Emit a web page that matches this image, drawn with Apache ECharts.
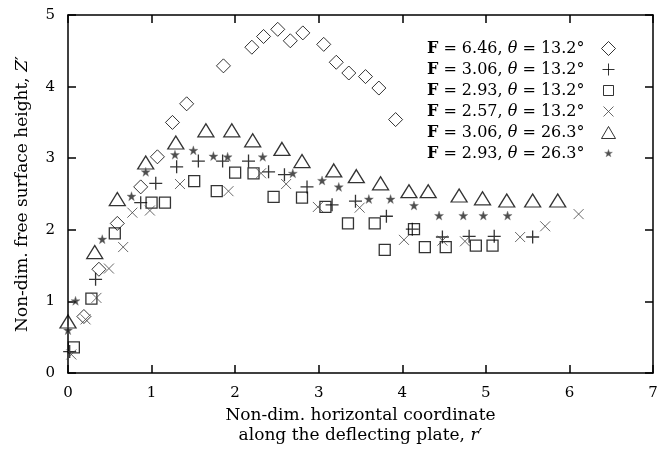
<!DOCTYPE html>
<html>
<head>
    <meta charset="UTF-8">
    <title>Free surface height</title>
    <script src="https://cdn.jsdelivr.net/npm/echarts@6/dist/echarts.min.js"></script>
</head>
<body style="margin:0">
<div id="chart" style="width:668px; height:451px;"></div>
<script>
    // F = 6.46, theta = 13.2
    var diamondPts = [[0.19,0.79],[0.37,1.45],[0.59,2.09],[0.87,2.6],[1.07,3.02],[1.25,3.5],[1.42,3.76],
        [1.86,4.29],[2.2,4.55],[2.34,4.7],[2.51,4.8],[2.66,4.64],[2.81,4.75],[3.06,4.59],[3.21,4.34],
        [3.36,4.19],[3.56,4.14],[3.72,3.98],[3.92,3.54]];
    // F = 3.06, theta = 13.2
    var plusPts = [[0.02,0.3],[0.33,1.31],[0.87,2.38],[1.05,2.65],[1.3,2.88],[1.56,2.96],[1.85,2.96],
        [2.16,2.96],[2.4,2.81],[2.59,2.77],[2.86,2.6],[3.16,2.35],[3.44,2.4],[3.81,2.19],[4.12,2.01],
        [4.48,1.9],[4.8,1.91],[5.1,1.91],[5.56,1.9]];
    // F = 2.93, theta = 13.2
    var squarePts = [[0.07,0.36],[0.28,1.04],[0.56,1.95],[1.0,2.38],[1.16,2.38],[1.51,2.68],[1.78,2.54],
        [2.0,2.8],[2.22,2.79],[2.46,2.46],[2.8,2.45],[3.08,2.32],[3.35,2.09],[3.67,2.09],[3.79,1.72],
        [4.14,2.01],[4.27,1.76],[4.52,1.76],[4.88,1.78],[5.08,1.78]];
    // F = 2.57, theta = 13.2
    var crossPts = [[0.04,0.26],[0.21,0.75],[0.34,1.05],[0.49,1.46],[0.66,1.76],[0.77,2.24],[0.98,2.27],
        [1.34,2.64],[1.92,2.54],[2.31,2.79],[2.61,2.64],[2.99,2.32],[3.49,2.31],[4.02,1.86],[4.48,1.85],
        [4.75,1.84],[5.41,1.9],[5.71,2.05],[6.11,2.22]];
    // F = 3.06, theta = 26.3
    var trianglePts = [[0.0,0.72],[0.32,1.69],[0.59,2.43],[0.93,2.94],[1.29,3.22],[1.65,3.39],[1.96,3.39],
        [2.21,3.25],[2.56,3.13],[2.8,2.96],[3.18,2.83],[3.45,2.75],[3.74,2.65],[4.08,2.54],[4.31,2.54],
        [4.68,2.48],[4.96,2.44],[5.25,2.41],[5.56,2.41],[5.86,2.41]];
    // F = 2.93, theta = 26.3
    var starPts = [[0.0,0.6],[0.09,1.01],[0.41,1.87],[0.76,2.47],[0.93,2.81],[1.28,3.05],[1.5,3.11],
        [1.74,3.03],[1.91,3.02],[2.33,3.02],[2.69,2.79],[3.04,2.69],[3.24,2.6],[3.6,2.43],[3.86,2.43],
        [4.14,2.34],[4.44,2.2],[4.73,2.2],[4.97,2.2],[5.26,2.2]];

    var legendNames = ['6.46, 13.2', '3.06, 13.2', '2.93, 13.2', '2.57, 13.2', '3.06, 26.3', '2.93, 26.3'];

    var serif = 'DejaVu Serif';
    var plusPath = 'path://M0,6H12M6,0V12';
    var crossPath = 'path://M0,0L10,10M0,10L10,0';
    var starShape = 'M10,0L12.35,6.76L19.51,6.91L13.8,11.24L15.88,18.09L10,14L4.12,18.09L6.2,11.24L0.49,6.91L7.65,6.76Z';
    var starPath = 'path://' + starShape;

    // legend icons, padded so they come out smaller inside the 14px box
    var legendIcons = [
        'path://M7,0.5L13.5,7L7,13.5L0.5,7Z',
        'path://M1,7H13M7,1V13M0,0M14,14',
        'path://M2,2H12V12H2ZM0,0M14,14',
        'path://M2,2L12,12M2,12L12,2M0,0M14,14',
        'path://M7,1L14,13H0ZM0,0M14,14',
        'path://' + starShape + 'M-7,-7M27,27'
    ];

    function hollow(w) {
        return {color: 'rgba(0,0,0,0)', borderColor: '#000', borderWidth: w};
    }

    function makeAxis(pos, max, showLabel) {
        return {
            type: 'value', position: pos, min: 0, max: max, interval: 1,
            axisLine: {show: true, onZero: false, lineStyle: {color: '#000', width: 1.5}},
            axisTick: {show: true, inside: true, length: 8, lineStyle: {color: '#000', width: 1.5}},
            axisLabel: {show: showLabel, color: '#000', fontFamily: serif, fontSize: 15, margin: 13},
            splitLine: {show: false}
        };
    }

    var chart = echarts.init(document.getElementById('chart'), null, {renderer: 'canvas'});

    var xMain = makeAxis('bottom', 7, true);
    xMain.name = 'Non-dim. horizontal coordinate\nalong the deflecting plate, {i|r}\u2032';
    xMain.nameLocation = 'middle';
    xMain.nameGap = 27;
    xMain.nameTextStyle = {color: '#000', fontFamily: serif, fontSize: 17, lineHeight: 20,
        rich: {i: {fontStyle: 'italic', fontFamily: serif, fontSize: 17, lineHeight: 20, color: '#000'}}};

    var yMain = makeAxis('left', 5, true);
    yMain.name = 'Non-dim. free surface height, {i|Z}\u2032';
    yMain.nameLocation = 'middle';
    yMain.nameGap = 37;
    yMain.nameTextStyle = {color: '#000', fontFamily: serif, fontSize: 17,
        rich: {i: {fontStyle: 'italic', fontFamily: serif, fontSize: 17, color: '#000'}}};

    var option = {
        backgroundColor: '#fff',
        animation: false,
        grid: {left: 68, right: 15, top: 15, bottom: 70},
        xAxis: [xMain, makeAxis('top', 7, false)],
        yAxis: [yMain, makeAxis('right', 5, false)],
        legend: {
            orient: 'vertical', right: 47, top: 34, align: 'right',
            itemWidth: 14, itemHeight: 14, itemGap: 2,
            data: legendNames.map(function (n, i) {
                return {
                    name: n, icon: legendIcons[i],
                    itemStyle: i === 5
                        ? {color: '#222', borderColor: '#777', borderWidth: 0.5}
                        : {color: 'rgba(0,0,0,0)', borderColor: i === 3 ? '#444' : '#000', borderWidth: 1}
                };
            }),
            formatter: function (name) {
                var p = name.split(', ');
                return '{b|F} = ' + p[0] + ', {i|\u03b8} = ' + p[1] + '\u00b0{s|}';
            },
            textStyle: {
                color: '#000', fontFamily: serif, fontSize: 16, lineHeight: 19,
                rich: {
                    b: {fontWeight: 'bold', fontFamily: serif, fontSize: 16, lineHeight: 19, color: '#000'},
                    i: {fontStyle: 'italic', fontFamily: serif, fontSize: 16, lineHeight: 19, color: '#000'},
                    s: {width: 12}
                }
            }
        },
        series: [
            {name: legendNames[0], type: 'scatter', data: diamondPts, symbol: 'diamond', symbolSize: [14, 14],
                itemStyle: hollow(1)},
            {name: legendNames[1], type: 'scatter', data: plusPts, symbol: plusPath, symbolSize: 13,
                itemStyle: hollow(1.3)},
            {name: legendNames[2], type: 'scatter', data: squarePts, symbol: 'rect', symbolSize: 11,
                itemStyle: hollow(1.3)},
            {name: legendNames[3], type: 'scatter', data: crossPts, symbol: crossPath, symbolSize: 10,
                itemStyle: {color: 'rgba(0,0,0,0)', borderColor: '#444', borderWidth: 1}},
            {name: legendNames[4], type: 'scatter', data: trianglePts, symbol: 'triangle', symbolSize: [16, 13],
                itemStyle: hollow(1.3)},
            {name: legendNames[5], type: 'scatter', data: starPts, symbol: starPath, symbolSize: 9,
                itemStyle: {color: '#222', borderColor: '#777', borderWidth: 0.5}}
        ]
    };
    chart.setOption(option);
</script>
</body>
</html>
